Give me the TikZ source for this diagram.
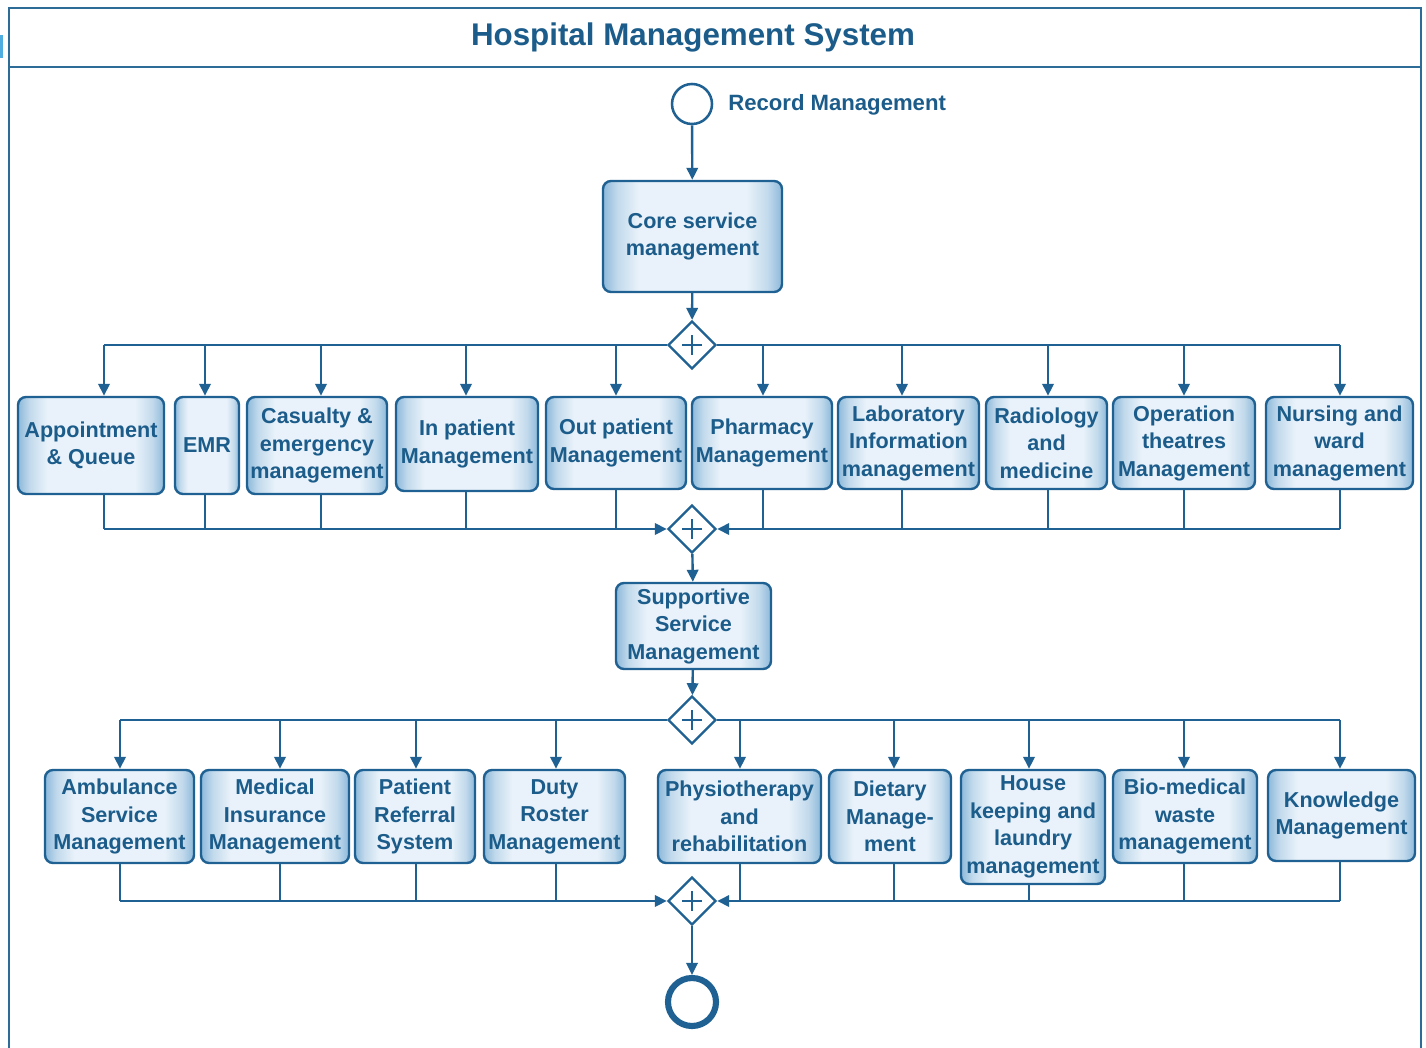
\documentclass[tikz,border=0pt]{standalone}
\usepackage{fontspec}
\setmainfont{Liberation Sans}
\usetikzlibrary{arrows.meta,shapes.geometric}

\definecolor{lineblue}{HTML}{1F6192}
\definecolor{txtblue}{HTML}{1B5C8A}
\definecolor{edgeblue}{HTML}{8DB9DA}
\definecolor{softblue}{HTML}{C2DAEC}
\definecolor{midblue}{HTML}{E9F2FA}
\definecolor{frameblue}{HTML}{2E6C98}
\definecolor{tickblue}{HTML}{4FAEDF}

% light centre, darker left and right rims
\pgfdeclarehorizontalshading{boxshade}{100bp}{color(0bp)=(edgeblue); color(25bp)=(edgeblue); color(29bp)=(softblue); color(35bp)=(midblue); color(65bp)=(midblue); color(71bp)=(softblue); color(75bp)=(edgeblue); color(100bp)=(edgeblue)}

\newcommand{\boxfont}{\bfseries\fontsize{16.2pt}{20.6pt}\selectfont}

\tikzset{
  box/.style={draw=lineblue, line width=1.8pt, rounded corners=6pt, shade, shading=boxshade,
    text=txtblue, font=\boxfont, align=center, inner sep=0pt},
  sz/.style 2 args={minimum width=#1*0.75pt, minimum height=#2*0.75pt},
  link/.style={draw=lineblue, line width=1.8pt},
  arr/.style={link, -{Triangle[length=9pt,width=8.5pt]}},
  gw/.style={diamond, draw=lineblue, line width=1.8pt, fill=white, minimum size=36pt, inner sep=0pt,
    path picture={\draw[line width=1.6pt, lineblue]
      ([xshift=-7.5pt]path picture bounding box.center) -- ([xshift=7.5pt]path picture bounding box.center)
      ([yshift=-7.5pt]path picture bounding box.center) -- ([yshift=7.5pt]path picture bounding box.center);}},
}

\begin{document}
\begin{tikzpicture}[x=0.75pt, y=-0.75pt]
\useasboundingbox (0,0) rectangle (1426,1048);

% pool frame and title band
\fill[tickblue] (0,35) rectangle (3,58);
\draw[frameblue, line width=2.2pt] (9,1048) -- (9,8) -- (1421,8) -- (1421,1048);
\draw[frameblue, line width=2.2pt] (9,67) -- (1421,67);
\node[text=txtblue, font=\bfseries\fontsize{23.5pt}{28pt}\selectfont] (title) at (693,37) {Hospital Management System};

% start event
\node[circle, draw=lineblue, line width=1.9pt, minimum size=30pt, inner sep=0pt] (start) at (692,104) {};
\node[anchor=west, text=txtblue, font=\bfseries\fontsize{16.6pt}{20pt}\selectfont, inner sep=0pt] (startlbl) at (728,105) {Record Management};

% core service
\node[box, sz={179}{111}] (core) at (692.5,236.5) {Core service\\management};
\node[gw] (g1) at (692,345) {};

% core modules
\node[box, sz={146}{97}] (b1) at (91,445.5) {Appointment\\\& Queue};
\node[box, sz={64}{97}] (b2) at (207,445.5) {EMR};
\node[box, sz={140}{97}] (b3) at (317,445.5) {Casualty \&\\emergency\\management};
\node[box, sz={142}{94}] (b4) at (467,444) {In patient\\Management};
\node[box, sz={140}{92}] (b5) at (616,443) {Out patient\\Management};
\node[box, sz={140}{92}] (b6) at (762,443) {Pharmacy\\Management};
\node[box, sz={141}{92}] (b7) at (908.5,443) {Laboratory\\Information\\management};
\node[box, sz={121}{92}] (b8) at (1046.5,443) {Radiology\\and\\medicine};
\node[box, sz={142}{92}] (b9) at (1184,443) {Operation\\theatres\\Management};
\node[box, sz={147}{92}] (b10) at (1339.5,443) {Nursing and\\ward\\management};

\node[gw] (g2) at (692,529) {};

% supportive service
\node[box, sz={155}{86}] (sup) at (693.5,626) {Supportive\\Service\\Management};
\node[gw] (g3) at (692,720) {};

% supportive modules
\node[box, sz={149}{93}] (c1) at (119.5,816.5) {Ambulance\\Service\\Management};
\node[box, sz={148}{93}] (c2) at (275,816.5) {Medical\\Insurance\\Management};
\node[box, sz={120}{93}] (c3) at (415,816.5) {Patient\\Referral\\System};
\node[box, sz={141}{93}] (c4) at (554.5,816.5) {Duty\\Roster\\Management};
\node[box, sz={163}{93}] (c5) at (739.5,816.5) {Physiotherapy\\and\\rehabilitation};
\node[box, sz={122}{93}] (c6) at (890,816.5) {Dietary\\Manage-\\ment};
\node[box, sz={144}{114}] (c7) at (1033,827) {House\\keeping and\\laundry\\management};
\node[box, sz={144}{93}] (c8) at (1185,816.5) {Bio-medical\\waste\\management};
\node[box, sz={147}{91}] (c9) at (1341.5,815.5) {Knowledge\\Management};

\node[gw] (g4) at (692,901) {};

% end event
\node[circle, draw=lineblue, line width=4.6pt, minimum size=36pt, inner sep=0pt] (finish) at (692,1002) {};

% main flow
\draw[arr] (start) -- (core);
\draw[arr] (core) -- (g1);
\draw[arr] (g2) -- (sup);
\draw[arr] (sup) -- (g3);
\draw[arr] (g4) -- (finish);

% split to core modules
\foreach \n/\x in {1/104, 2/205, 3/321, 4/466, 5/616, 6/763, 7/902, 8/1048, 9/1184, 10/1340} {
  \coordinate (s\n) at (\x,345);
  \coordinate (m\n) at (\x,529);
}
\draw[link] (s1) -- (g1.west);
\draw[link] (g1.east) -- (s10);
\foreach \n in {1,...,10} {
  \draw[arr] (s\n) -- (s\n |- b\n.north);
  \draw[link] (m\n |- b\n.south) -- (m\n);
}
\draw[arr] (m1) -- (g2.west);
\draw[arr] (m10) -- (g2.east);

% split to supportive modules
\foreach \n/\x in {1/120, 2/280, 3/416, 4/556, 5/740, 6/894, 7/1029, 8/1184, 9/1340} {
  \coordinate (t\n) at (\x,720);
  \coordinate (j\n) at (\x,901);
}
\draw[link] (t1) -- (g3.west);
\draw[link] (g3.east) -- (t9);
\foreach \n in {1,...,9} {
  \draw[arr] (t\n) -- (t\n |- c\n.north);
  \draw[link] (j\n |- c\n.south) -- (j\n);
}
\draw[arr] (j1) -- (g4.west);
\draw[arr] (j9) -- (g4.east);

\end{tikzpicture}
\end{document}
